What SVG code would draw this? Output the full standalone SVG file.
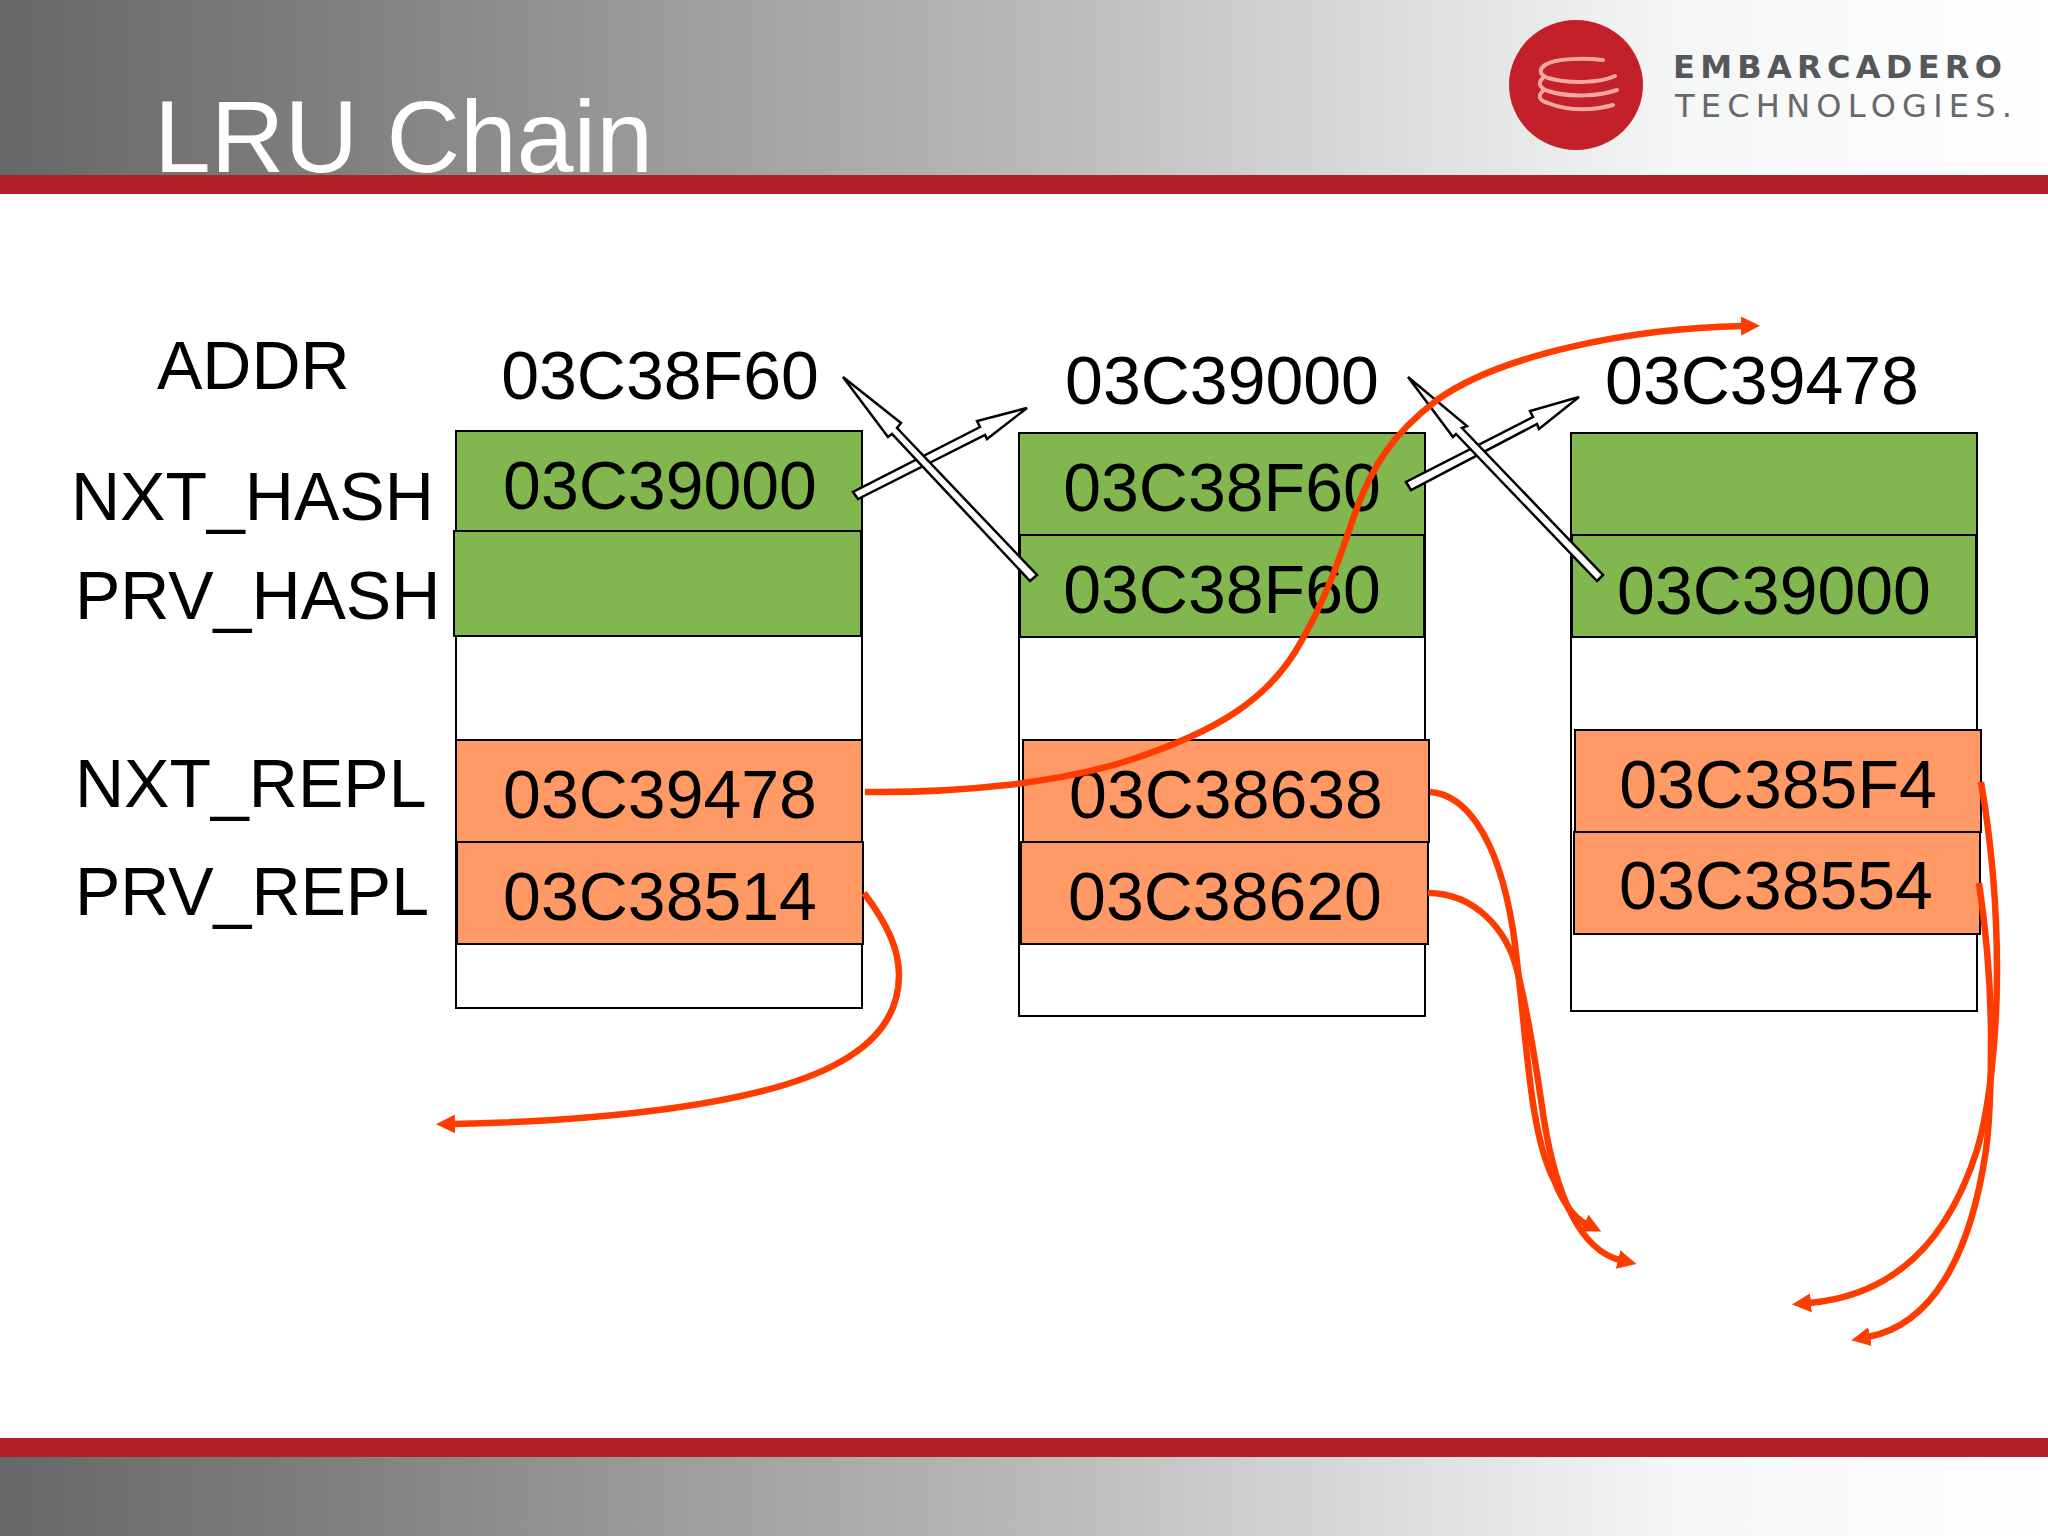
<svg xmlns="http://www.w3.org/2000/svg" width="2048" height="1536" viewBox="0 0 2048 1536">
<defs>
<linearGradient id="band" x1="0" y1="0" x2="1" y2="0">
<stop offset="0" stop-color="#666867"/><stop offset="0.15" stop-color="#7d7e7c"/><stop offset="0.34" stop-color="#9e9e9c"/><stop offset="0.52" stop-color="#bcbcbb"/><stop offset="0.7" stop-color="#dfe1e1"/><stop offset="0.82" stop-color="#f5f6f6"/><stop offset="1" stop-color="#ffffff"/>
</linearGradient>
<marker id="head" markerUnits="userSpaceOnUse" markerWidth="22" markerHeight="22" refX="2" refY="9.5" orient="auto"><path d="M0,0L19,9.5L0,19Z" fill="#ff3c00"/></marker>
</defs>
<style>
text{font-family:"Liberation Sans",Arial,sans-serif;fill:#000}
.t{font-size:68px;text-anchor:middle}
.l{font-size:68px}
.g{fill:#82b74f;stroke:#000;stroke-width:2}
.o{fill:#ff9966;stroke:#000;stroke-width:2}
.w{fill:#fff;stroke:#000;stroke-width:2}
.c{fill:none;stroke:#ff3c00;stroke-width:6.5;marker-end:url(#head)}
.b{fill:#fff;stroke:#000;stroke-width:2.5;stroke-linejoin:miter}
.r{fill:#b3202c}
</style>
<rect width="2048" height="1536" fill="#fff"/>
<g id="header">
<rect x="0" y="0" width="2048" height="175" fill="url(#band)"/>
<rect class="r" x="0" y="175" width="2048" height="19"/>
<text x="154" y="172" style="font-size:102px;fill:#fff">LRU Chain</text>
</g>
<g id="logo">
<ellipse cx="1576" cy="85" rx="67" ry="65" fill="#c4202a"/>
<g fill="none" stroke="#f6a8a0" stroke-width="4" stroke-linecap="round">
<path d="M1603,60C1585,58 1555,58 1545,65C1538,70 1540,75 1548,78C1570,84 1600,83 1615,76"/>
<path d="M1543,78C1537,83 1540,88 1548,91C1570,98 1600,96 1617,90"/>
<path d="M1543,91C1537,96 1540,101 1548,103C1570,112 1595,110 1613,105"/>
</g>
<text x="1673" y="78" textLength="329" lengthAdjust="spacing" style="font-family:'DejaVu Sans',sans-serif;font-size:32px;font-weight:700;fill:#55585a">EMBARCADERO</text>
<text x="1675" y="117" textLength="337" lengthAdjust="spacing" style="font-family:'DejaVu Sans',sans-serif;font-size:32px;fill:#66696b">TECHNOLOGIES.</text>
</g>
<g id="row-labels">
<text class="l" x="157" y="389">ADDR</text>
<text class="l" x="71" y="520">NXT_HASH</text>
<text class="l" x="75" y="619">PRV_HASH</text>
<text class="l" x="75" y="807">NXT_REPL</text>
<text class="l" x="75" y="915">PRV_REPL</text>
</g>
<g id="block-03C38F60">
<rect class="w" x="456" y="431" width="406" height="577"/>
<rect class="g" x="456" y="431" width="406" height="100"/>
<rect class="g" x="454" y="531" width="407" height="105"/>
<rect class="o" x="456" y="740" width="406" height="102"/>
<rect class="o" x="457" y="842" width="406" height="102"/>
<text class="t" x="660" y="399">03C38F60</text>
<text class="t" x="660" y="509">03C39000</text>
<text class="t" x="660" y="818">03C39478</text>
<text class="t" x="660" y="920">03C38514</text>
</g>
<g id="block-03C39000">
<rect class="w" x="1019" y="433" width="406" height="583"/>
<rect class="g" x="1019" y="433" width="406" height="102"/>
<rect class="g" x="1020" y="535" width="404" height="102"/>
<rect class="o" x="1023" y="740" width="406" height="102"/>
<rect class="o" x="1021" y="842" width="407" height="102"/>
<text class="t" x="1222" y="404">03C39000</text>
<text class="t" x="1222" y="511">03C38F60</text>
<text class="t" x="1222" y="613">03C38F60</text>
<text class="t" x="1226" y="818">03C38638</text>
<text class="t" x="1225" y="920">03C38620</text>
</g>
<g id="block-03C39478">
<rect class="w" x="1571" y="433" width="406" height="578"/>
<rect class="g" x="1571" y="433" width="406" height="102"/>
<rect class="g" x="1572" y="535" width="404" height="102"/>
<rect class="o" x="1575" y="730" width="406" height="102"/>
<rect class="o" x="1574" y="832" width="406" height="102"/>
<text class="t" x="1762" y="404">03C39478</text>
<text class="t" x="1774" y="614">03C39000</text>
<text class="t" x="1778" y="808">03C385F4</text>
<text class="t" x="1776" y="909">03C38554</text>
</g>
<g id="connectors">
<path class="b" d="M853,492L858,499L985,435L987,439L1027,408L977,421L980,427Z"/>
<path class="b" d="M1037,575L1030,581L892,434L888,437L843,377L901,423L897,428Z"/>
<path class="b" d="M1406,482L1411,490L1537,424L1539,429L1579,397L1530,411L1533,417Z"/>
<path class="b" d="M1603,575L1597,581L1456,434L1453,437L1408,377L1467,426L1462,428Z"/>
<path class="c" d="M865,792C960,793 1060,783 1130,760C1215,732 1270,700 1302,640C1330,590 1340,555 1350,528C1370,465 1395,432 1437,400C1500,355 1630,328 1743,326"/>
<path class="c" d="M864,893C888,925 899,950 899,975C899,1010 880,1040 840,1062C765,1105 600,1121 453,1124"/>
<path class="c" d="M1430,792C1462,794 1497,830 1513,930C1527,1030 1528,1130 1554,1180C1562,1200 1572,1217 1586,1224"/>
<path class="c" d="M1428,893C1475,893 1507,930 1517,970C1530,1020 1538,1080 1544,1120C1556,1195 1580,1250 1620,1260"/>
<path class="c" d="M1981,782C1991,840 1997,910 1997,970C1997,1040 1989,1110 1977,1150C1950,1235 1900,1295 1809,1303"/>
<path class="c" d="M1979,883C1986,930 1991,990 1991,1040C1991,1080 1990,1120 1986,1150C1970,1260 1930,1325 1868,1337"/>
</g>
<g id="footer">
<rect class="r" x="0" y="1438" width="2048" height="19"/>
<rect x="0" y="1457" width="2048" height="79" fill="url(#band)"/>
</g>
</svg>
